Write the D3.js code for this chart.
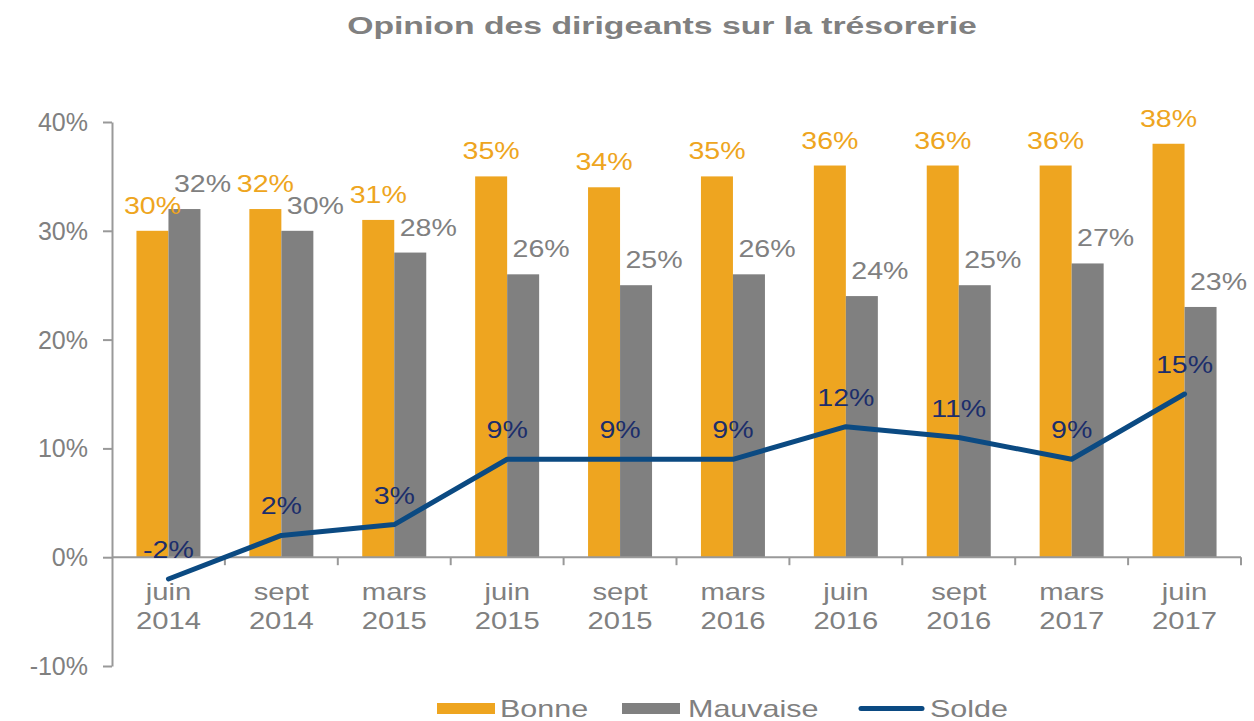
<!DOCTYPE html>
<html>
<head>
<meta charset="utf-8">
<script src="https://cdn.jsdelivr.net/npm/d3@7"></script>
<style>
  body { margin: 0; background: #fff; }
  text { font-family: "Liberation Sans", Arial, sans-serif; }
</style>
</head>
<body>
<svg id="chart" width="1254" height="721"></svg>
<script>
// values
const categories = ["juin 2014", "sept 2014", "mars 2015", "juin 2015", "sept 2015",
                    "mars 2016", "juin 2016", "sept 2016", "mars 2017", "juin 2017"];
const bonne    = [30, 32, 31, 35, 34, 35, 36, 36, 36, 38];
const mauvaise = [32, 30, 28, 26, 25, 26, 24, 25, 27, 23];
const solde    = [-2, 2, 3, 9, 9, 9, 12, 11, 9, 15];
const yTicks   = [-10, 0, 10, 20, 30, 40];
const seriesNames = ["Bonne", "Mauvaise", "Solde"];

const orange = "#eea520", grey = "#808080", blue = "#0b4a82", navy = "#1c2e6b";
const axisCol = "#999999", textCol = "#808080";

const svg = d3.select("#chart");

const x = d3.scaleBand().domain(categories).range([112, 1241]);
const half = 32;
const x1 = d3.scaleBand().domain(["Bonne", "Mauvaise"])
    .range([x.bandwidth() / 2 - half, x.bandwidth() / 2 + half]);
const y = d3.scaleLinear().domain([-10, 40]).range([666, 122]);

// text that is stretched sideways like the original
function stext(g, tx, ty, str, sx) {
    return g.append("text")
        .attr("transform", `translate(${tx},${ty}) scale(${sx},1)`)
        .text(str);
}

// title, fitted to the width it has in the original
const title = stext(svg, 662, 34, "Opinion des dirigeants sur la trésorerie", 1)
    .attr("text-anchor", "middle")
    .attr("font-size", 23).attr("font-weight", "bold").attr("fill", textCol);
const tw = title.node().getComputedTextLength();
title.attr("transform", `translate(662,34) scale(${630 / tw},1)`);

// y axis
const yAxis = svg.append("g").attr("transform", "translate(112,0)")
    .call(d3.axisLeft(y).tickValues(yTicks).tickSize(9).tickSizeOuter(0)
        .tickFormat(d => d + "%"));
yAxis.select(".domain").attr("stroke", axisCol).attr("stroke-width", 2);
yAxis.selectAll(".tick line").attr("stroke", axisCol).attr("stroke-width", 2);
yAxis.selectAll(".tick text").remove();
yTicks.forEach(v => {
    stext(yAxis, -24, y(v) + 9, v + "%", 1.0)
        .attr("text-anchor", "end").attr("font-size", 25).attr("fill", textCol);
});

// bars
const barG = svg.append("g");
barG.selectAll(".bonne").data(bonne).join("rect")
    .attr("x", (d, i) => x(categories[i]) + x1("Bonne"))
    .attr("y", d => y(d))
    .attr("width", x1.bandwidth())
    .attr("height", d => y(0) - y(d))
    .attr("fill", orange);
barG.selectAll(".mauvaise").data(mauvaise).join("rect")
    .attr("x", (d, i) => x(categories[i]) + x1("Mauvaise"))
    .attr("y", d => y(d))
    .attr("width", x1.bandwidth())
    .attr("height", d => y(0) - y(d))
    .attr("fill", grey);

// x axis
const xAxis = svg.append("g");
xAxis.append("line")
    .attr("x1", x.range()[0]).attr("x2", x.range()[1])
    .attr("y1", y(0)).attr("y2", y(0))
    .attr("stroke", axisCol).attr("stroke-width", 2);
d3.range(1, categories.length + 1).forEach(i => {
    const bx = x.range()[0] + i * x.step();
    xAxis.append("line")
        .attr("x1", bx).attr("x2", bx).attr("y1", y(0)).attr("y2", y(0) + 8)
        .attr("stroke", axisCol).attr("stroke-width", 2);
});
categories.forEach(c => {
    const cx = x(c) + x.bandwidth() / 2;
    const parts = c.split(" ");
    stext(xAxis, cx, 600, parts[0], 1.27)
        .attr("text-anchor", "middle").attr("font-size", 23).attr("fill", textCol);
    stext(xAxis, cx, 629, parts[1], 1.27)
        .attr("text-anchor", "middle").attr("font-size", 23).attr("fill", textCol);
});

// solde line
const line = d3.line()
    .x((d, i) => x(categories[i]) + x.bandwidth() / 2)
    .y(d => y(d));
svg.append("path").datum(solde)
    .attr("d", line)
    .attr("fill", "none").attr("stroke", blue).attr("stroke-width", 5)
    .attr("stroke-linecap", "round").attr("stroke-linejoin", "round");

// data labels
const lab = svg.append("g").attr("font-size", 24).attr("text-anchor", "middle");
bonne.forEach((v, i) => {
    stext(lab, x(categories[i]) + x1("Bonne") + x1.bandwidth() / 2, y(v) - 17, v + "%", 1.19)
        .attr("fill", orange);
});
mauvaise.forEach((v, i) => {
    stext(lab, x(categories[i]) + x1("Mauvaise") + x1.bandwidth() / 2 + 18, y(v) - 17, v + "%", 1.19)
        .attr("fill", grey);
});
solde.forEach((v, i) => {
    stext(lab, x(categories[i]) + x.bandwidth() / 2, y(v) - 21, v + "%", 1.19)
        .attr("fill", navy);
});

// legend
const leg = svg.append("g").attr("font-size", 24).attr("fill", textCol);
const legX = [437, 622, 858];
leg.append("rect").attr("x", legX[0]).attr("y", 703).attr("width", 58).attr("height", 11).attr("fill", orange);
leg.append("rect").attr("x", legX[1]).attr("y", 703).attr("width", 58).attr("height", 11).attr("fill", grey);
leg.append("line").attr("x1", legX[2] + 3).attr("x2", legX[2] + 64).attr("y1", 708.5).attr("y2", 708.5)
    .attr("stroke", blue).attr("stroke-width", 5).attr("stroke-linecap", "round");
stext(leg, 500, 717, seriesNames[0], 1.27);
stext(leg, 688, 717, seriesNames[1], 1.27);
stext(leg, 930, 717, seriesNames[2], 1.27);
</script>
</body>
</html>
